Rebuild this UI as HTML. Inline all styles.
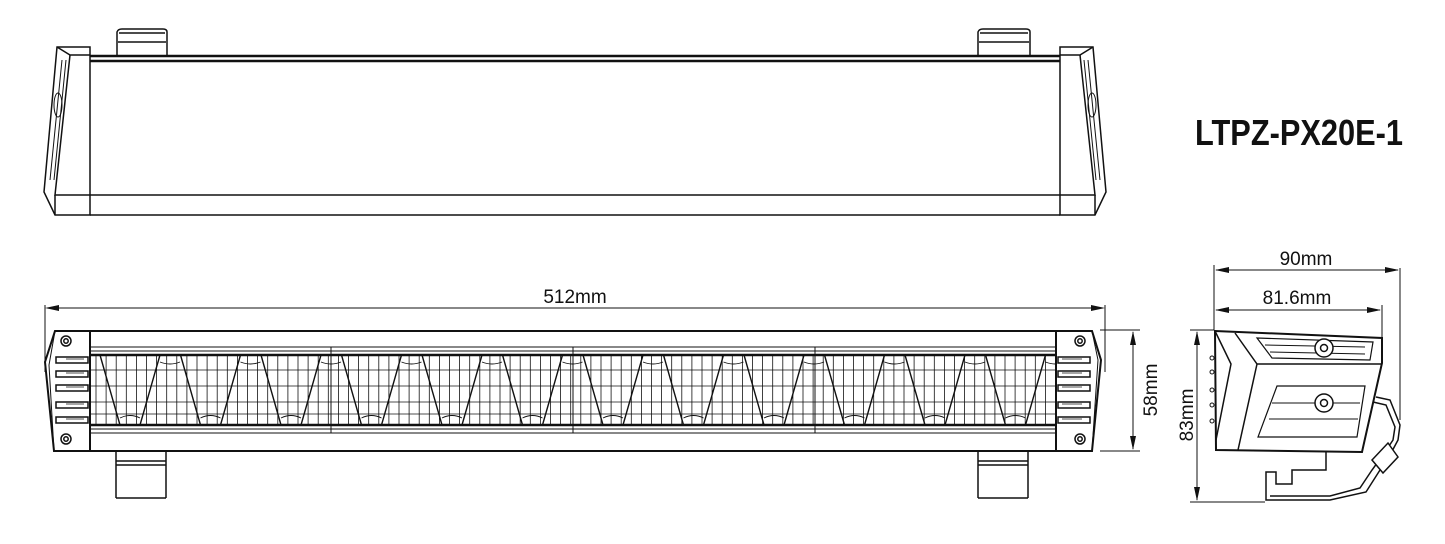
<!DOCTYPE html>
<html><head><meta charset="utf-8"><style>
html,body{margin:0;padding:0;background:#fff;}
svg{display:block;}
text{font-family:"Liberation Sans",sans-serif;fill:#111;}
</style></head><body>
<svg id="s" width="1445" height="544" viewBox="0 0 1445 544" xmlns="http://www.w3.org/2000/svg" fill="none" stroke="#111" stroke-width="1.5">
<!-- TOP VIEW -->
<g>
 <path d="M117,56 V32 Q118,29 122,29 H163 Q167,29 167,32 V56"/><line x1="119" y1="33" x2="165" y2="33"/><line x1="118" y1="42" x2="166" y2="42"/>
 <path d="M978,56 V32 Q979,29 983,29 H1026 Q1030,29 1030,32 V56"/><line x1="980" y1="33" x2="1028" y2="33"/><line x1="979" y1="42" x2="1029" y2="42"/>
 <line x1="90" y1="56" x2="1060" y2="56" stroke-width="2.5"/>
 <line x1="90" y1="61" x2="1060" y2="61" stroke-width="2.5"/>
 <line x1="90" y1="195" x2="1060" y2="195"/>
 <line x1="90" y1="215" x2="1060" y2="215"/>
 <path d="M57,47 H90 V215 H55 L44,192 Z"/>
 <path d="M57,47 L70,55 H90"/><path d="M70,55 L55,195 H90"/><line x1="55" y1="195" x2="55" y2="215"/>
 <path d="M62,60 L50,180" stroke-width="1"/><path d="M66,60 L54,180" stroke-width="1"/>
 <ellipse cx="58" cy="105" rx="4" ry="12" stroke-width="1"/>
 <path d="M1093,47 H1060 V215 H1095 L1106,192 Z"/>
 <path d="M1093,47 L1080,55 H1060"/><path d="M1080,55 L1095,195 H1060"/><line x1="1095" y1="195" x2="1095" y2="215"/>
 <path d="M1088,60 L1100,180" stroke-width="1"/><path d="M1084,60 L1096,180" stroke-width="1"/>
 <ellipse cx="1092" cy="105" rx="4" ry="12" stroke-width="1"/>
</g>
<text x="1195" y="145" font-size="36" font-weight="bold" textLength="208" lengthAdjust="spacingAndGlyphs" stroke="none">LTPZ-PX20E-1</text>

<!-- FRONT VIEW -->
<g>
 <line x1="45" y1="305" x2="45" y2="372" stroke-width="1"/>
 <line x1="1105" y1="305" x2="1105" y2="372" stroke-width="1"/>
 <line x1="47" y1="308" x2="1103" y2="308" stroke-width="1"/>
 <path d="M45,308 l14,-3 v6 z M1105,308 l-14,-3 v6 z" fill="#111" stroke="none"/>
 <text x="575" y="303" font-size="19" text-anchor="middle" stroke="none">512mm</text>
 <line x1="1100" y1="330" x2="1140" y2="330" stroke-width="1"/>
 <line x1="1100" y1="451" x2="1140" y2="451" stroke-width="1"/>
 <line x1="1133" y1="332" x2="1133" y2="449" stroke-width="1"/>
 <path d="M1133,331 l-3,14 h6 z M1133,450 l-3,-14 h6 z" fill="#111" stroke="none"/>
 <text transform="translate(1157,390) rotate(-90)" font-size="19" text-anchor="middle" stroke="none">58mm</text>
 <path d="M116,451 V498 M166,451 V498 M116,461 H166 M116,465 H166 M116,498 H166" />
 <path d="M978,451 V498 M1028,451 V498 M978,461 H1028 M978,465 H1028 M978,498 H1028" />
 <line x1="90" y1="331" x2="1056" y2="331" stroke-width="2"/>
 <line x1="90" y1="451" x2="1056" y2="451" stroke-width="2"/>
 <line x1="90" y1="347" x2="1056" y2="347" stroke-width="1"/>
 <line x1="90" y1="351" x2="1056" y2="351" stroke-width="1"/>
 <line x1="90" y1="355" x2="1056" y2="355" stroke-width="2.5"/>
 <line x1="90" y1="425" x2="1056" y2="425" stroke-width="2.5"/>
 <line x1="90" y1="429" x2="1056" y2="429" stroke-width="1"/>
 <line x1="90" y1="433" x2="1056" y2="433" stroke-width="1"/>
 <line x1="331" y1="347" x2="331" y2="433" stroke-width="1"/>
 <line x1="573" y1="347" x2="573" y2="433" stroke-width="1"/>
 <line x1="815" y1="347" x2="815" y2="433" stroke-width="1"/>
 <g id="grid" stroke-width="0.8"></g>
 <g id="trap" stroke-width="1.4"></g>
 <path d="M55,331 H90 V451 H54 L45,362 Z" stroke-width="2" fill="#fff"/>
 <path d="M55,331 L49,365 L54,451" stroke-width="1"/>
 <g id="lfins"></g>
 <circle cx="66" cy="341" r="5"/><circle cx="66" cy="341" r="2.2"/>
 <circle cx="66" cy="439" r="5"/><circle cx="66" cy="439" r="2.2"/>
 <path d="M1092,331 H1056 V451 H1092 L1101,360 Z" stroke-width="2" fill="#fff"/>
 <path d="M1092,331 L1098,360 L1092,451" stroke-width="1"/>
 <g id="rfins"></g>
 <circle cx="1080" cy="341" r="5"/><circle cx="1080" cy="341" r="2.2"/>
 <circle cx="1080" cy="439" r="5"/><circle cx="1080" cy="439" r="2.2"/>
</g>

<!-- SIDE VIEW -->
<g>
 <line x1="1214" y1="265" x2="1214" y2="330" stroke-width="1"/>
 <line x1="1400" y1="268" x2="1400" y2="420" stroke-width="1"/>
 <line x1="1382" y1="305" x2="1382" y2="362" stroke-width="1"/>
 <line x1="1216" y1="270" x2="1398" y2="270" stroke-width="1"/>
 <path d="M1215,270 l14,-3 v6 z M1399,270 l-14,-3 v6 z" fill="#111" stroke="none"/>
 <text x="1306" y="265" font-size="19" text-anchor="middle" stroke="none">90mm</text>
 <line x1="1216" y1="310" x2="1380" y2="310" stroke-width="1"/>
 <path d="M1215,310 l14,-3 v6 z M1381,310 l-14,-3 v6 z" fill="#111" stroke="none"/>
 <text x="1297" y="304" font-size="19" text-anchor="middle" stroke="none">81.6mm</text>
 <line x1="1190" y1="330" x2="1214" y2="330" stroke-width="1"/>
 <line x1="1190" y1="502" x2="1265" y2="502" stroke-width="1"/>
 <line x1="1197" y1="332" x2="1197" y2="500" stroke-width="1"/>
 <path d="M1197,331 l-3,14 h6 z M1197,501 l-3,-14 h6 z" fill="#111" stroke="none"/>
 <text transform="translate(1193,415) rotate(-90)" font-size="19" text-anchor="middle" stroke="none">83mm</text>
 <path d="M1376,397 L1390,400 L1400,425 L1398,440 L1390,455 L1380,470 L1366,492 L1330,500 H1266 V472 H1276 V484 H1292 V470 H1326 V451"/>
 <path d="M1373,402 L1386,405 L1395,427 L1393,440 L1383,455 L1372,470 L1360,488 L1330,496 H1270"/>
 <path d="M1372,460 L1383,473 L1398,457 L1388,443 Z" fill="#fff"/>
 <path d="M1215,331 L1382,338 V363 L1362,452 L1216,450 Z" stroke-width="2" fill="#fff"/>
 <path d="M1235,333 L1257,364 H1382 M1257,364 L1238,450 M1215,331 L1231,364 L1216,440"/>
 <path d="M1257,338 L1373,342 L1370,360 L1272,358 Z" stroke-width="1.2"/>
 <line x1="1265" y1="345" x2="1365" y2="347" stroke-width="1"/>
 <line x1="1270" y1="352" x2="1365" y2="354" stroke-width="1"/>
 <path d="M1277,386 H1365 L1357,437 H1258 Z" stroke-width="1.2"/>
 <line x1="1272" y1="403" x2="1360" y2="403" stroke-width="1"/>
 <line x1="1269" y1="419" x2="1358" y2="419" stroke-width="1"/>
 <circle cx="1324" cy="348" r="9" fill="#fff"/><circle cx="1324" cy="348" r="3.5"/>
 <circle cx="1324" cy="403" r="9" fill="#fff"/><circle cx="1324" cy="403" r="3.5"/>
 <g id="sfins" stroke-width="1"></g>
</g>
</svg>
<script>
var NS="http://www.w3.org/2000/svg";
function el(p,t,a){var e=document.createElementNS(NS,t);for(var k in a)e.setAttribute(k,a[k]);document.getElementById(p).appendChild(e);}
for(var x=96;x<1056;x+=10.1){el("grid","line",{x1:x,y1:355,x2:x,y2:425});}
[370,386,402,414].forEach(function(y){el("grid","line",{x1:90,y1:y,x2:1056,y2:y});});
for(var b=100;b<1050;b+=80.5){
 el("trap","path",{d:"M"+b+",355 L"+(b+20)+",425 M"+(b+60)+",355 L"+(b+40)+",425",fill:"none"});
 el("trap","path",{d:"M"+(b+20)+",418 Q"+(b+30)+",413 "+(b+40)+",418 M"+(b+60)+",362 Q"+(b+70)+",366 "+(b+80)+",362",fill:"none","stroke-width":"0.9"});
}
[360,374,388,405,420].forEach(function(y){
 el("lfins","rect",{x:56,y:y-3,width:32,height:6,fill:"#fff"});
 el("lfins","line",{x1:66,y1:y-1,x2:84,y2:y-1,"stroke-width":"0.8"});
 el("rfins","rect",{x:1058,y:y-3,width:32,height:6,fill:"#fff"});
 el("rfins","line",{x1:1062,y1:y-1,x2:1082,y2:y-1,"stroke-width":"0.8"});
});
[358,372,390,405,421].forEach(function(y){el("sfins","circle",{cx:1212,cy:y,r:2,fill:"#fff"});});
</script>
</body></html>
